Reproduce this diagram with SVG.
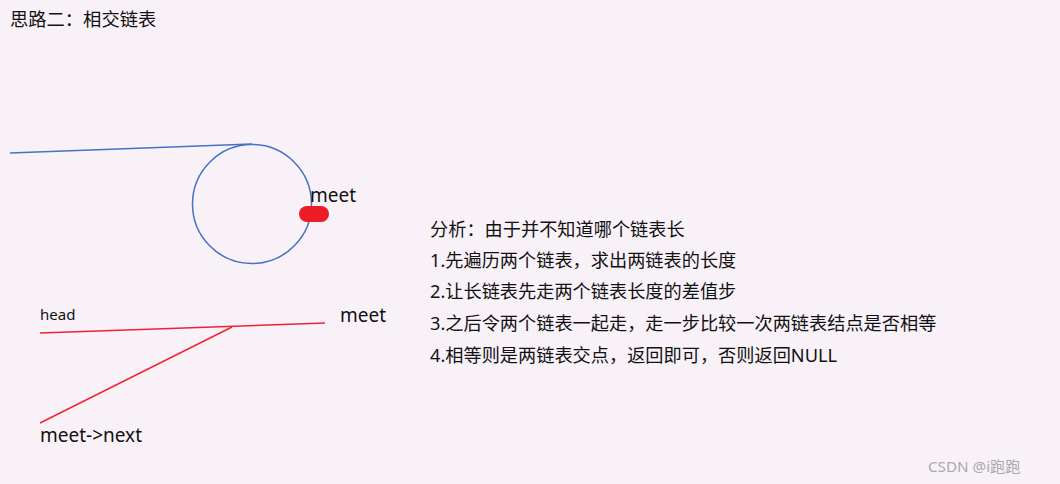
<svg xmlns="http://www.w3.org/2000/svg" width="1060" height="484" viewBox="0 0 1060 484">
<style>
.t{font-family:"Microsoft YaHei","Noto Sans","Noto Sans CJK SC",sans-serif;fill:#111;}
.blue{fill:none;stroke:#4472c4;stroke-width:1.5;}
.red{fill:none;stroke:#ee2233;stroke-width:1.5;}
</style>
<rect width="1060" height="484" fill="#f8f1f8"/>
<text class="t" x="10" y="26" font-size="18.3">思路二：相交链表</text>
<g id="connectors">
<line class="blue" x1="10" y1="153" x2="252" y2="144"/>
<line class="red" x1="40" y1="333" x2="325" y2="323"/>
<line class="red" x1="40" y1="423" x2="232" y2="327"/>
</g>
<g id="loop">
<circle class="blue" cx="252" cy="204" r="59.5"/>
</g>
<g id="meet-marker">
<rect x="299" y="206" width="30" height="16" rx="8" fill="#ee1c25"/>
<text class="t" x="310" y="202" font-size="19">meet</text>
</g>
<g id="labels">
<text class="t" x="40" y="320" font-size="15">head</text>
<text class="t" x="340" y="322" font-size="19">meet</text>
<text class="t" x="40" y="442" font-size="19">meet-&gt;next</text>
</g>
<g id="analysis" font-size="18.2">
<text class="t" x="430" y="236">分析：由于并不知道哪个链表长</text>
<text class="t" x="430" y="267">1.先遍历两个链表，求出两链表的长度</text>
<text class="t" x="430" y="298">2.让长链表先走两个链表长度的差值步</text>
<text class="t" x="430" y="330">3.之后令两个链表一起走，走一步比较一次两链表结点是否相等</text>
<text class="t" x="430" y="362">4.相等则是两链表交点，返回即可，否则返回NULL</text>
</g>
<text x="928" y="472" font-size="15.2" font-family="'Noto Sans','Noto Sans CJK SC',sans-serif" fill="#aaaaaa">CSDN @i跑跑</text>
</svg>
